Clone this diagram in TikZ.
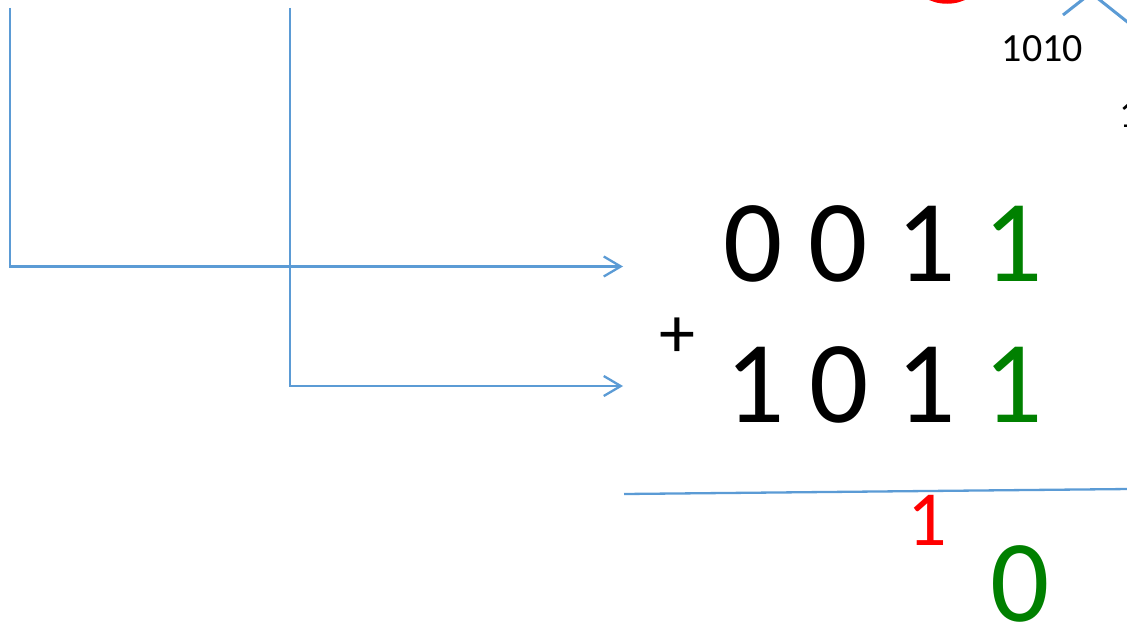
\documentclass[tikz,border=0pt]{standalone}
\usepackage{fontspec}
\setmainfont{Carlito}
\usetikzlibrary{arrows.meta}
\definecolor{lineblue}{HTML}{5B9BD5}
\definecolor{dgreen}{HTML}{008000}
\definecolor{myred}{HTML}{FF0000}
\begin{document}
\begin{tikzpicture}[x=1pt,y=-1pt,
  conn/.style={draw=lineblue,line width=2.3pt},
  arr/.style={conn,-{Straight Barb[length=17pt,width=20pt]}},
  big/.style={font=\fontsize{117}{117}\selectfont,inner sep=0pt,anchor=base},
  mid/.style={font=\fontsize{78}{78}\selectfont,inner sep=0pt,anchor=base},
  small/.style={font=\fontsize{40}{40}\selectfont,inner sep=0pt,anchor=base}]
\useasboundingbox (0,0) rectangle (1127,626);
\clip (0,0) rectangle (1127,626);
% top-right fragments
\draw[myred,line width=3.5pt] (947,-18) ellipse [x radius=30pt, y radius=20pt];
\coordinate (apex) at (1091,-7);
\coordinate (leftleaf) at (1063,15);
\coordinate (rightleaf) at (1135,28);
\draw[conn,line width=3pt] (leftleaf) -- (apex) -- (rightleaf);
\node[small] (lab1010) at (1042.5,62) {1010};
\node[small,anchor=base west] (labcut) at (1119,127) {1};
% operands
\node[big] (a3) at (753.5,281) {0};
\node[big] (a2) at (838.5,281) {0};
\node[big] (a1) at (926,281) {1};
\node[big,text=dgreen] (a0) at (1013.5,281) {1};
\node[big] (b3) at (755,422) {1};
\node[big] (b2) at (839,422) {0};
\node[big] (b1) at (926,422) {1};
\node[big,text=dgreen] (b0) at (1013.5,422) {1};
\node[font=\fontsize{72}{72}\selectfont,inner sep=0pt,anchor=north] (plus) at (677.5,318) {+};
% result
\node[mid,text=myred] (carry) at (927,545) {1};
\node[big,text=dgreen] (r0) at (1020,621) {0};
% connectors
\coordinate (s1) at (10,8);
\coordinate (t1) at (623,266.5);
\coordinate (s2) at (290,8);
\coordinate (t2) at (623,386);
\draw[arr] (s1) |- (t1);
\draw[arr] (s2) |- (t2);
\coordinate (ul) at (624,494);
\coordinate (ur) at (1130,489);
\draw[conn] (ul) -- (ur);
\end{tikzpicture}
\end{document}
